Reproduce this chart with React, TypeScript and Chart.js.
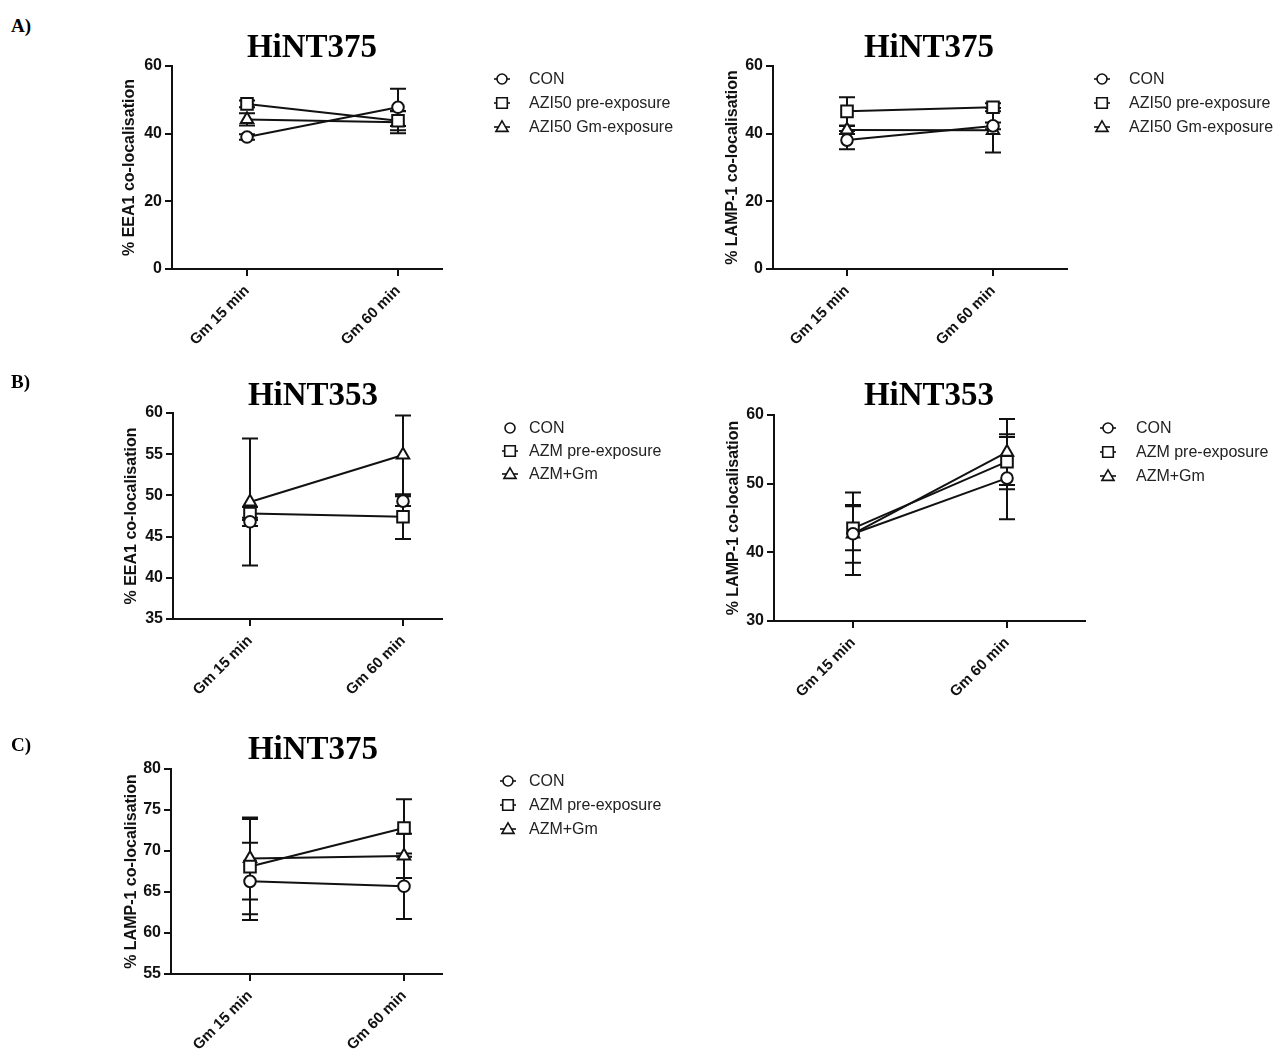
import React, { useEffect, useRef } from 'react';
import { Chart, registerables } from 'chart.js';

Chart.register(...registerables);

// ---------------- DATA ----------------
const categories = ['Gm 15 min', 'Gm 60 min'];

// A) HiNT375, AZI50 – EEA1
const aEea1Con = [39.0, 47.8];
const aEea1ConErr = [0.8, 5.5];
const aEea1Pre = [48.8, 43.8];
const aEea1PreErr = [1.0, 2.8];
const aEea1Gm = [44.2, 43.4];
const aEea1GmErr = [1.8, 3.3];

// A) HiNT375, AZI50 – LAMP-1
const aLampCon = [38.1, 42.3];
const aLampConErr = [2.7, 1.0];
const aLampPre = [46.6, 47.8];
const aLampPreErr = [4.2, 1.2];
const aLampGm = [41.1, 41.0];
const aLampGmErr = [1.2, 6.6];

// B) HiNT353, AZM – EEA1
const bEea1Con = [46.8, 49.3];
const bEea1ConErr = [0.5, 0.6];
const bEea1Pre = [47.8, 47.4];
const bEea1PreErr = [0.8, 2.7];
const bEea1Gm = [49.2, 54.9];
const bEea1GmErr = [7.7, 4.8];

// B) HiNT353, AZM – LAMP-1
const bLampCon = [42.7, 50.8];
const bLampConErr = [4.2, 6.0];
const bLampPre = [43.5, 53.2];
const bLampPreErr = [3.2, 4.0];
const bLampGm = [42.7, 54.6];
const bLampGmErr = [6.0, 4.8];

// C) HiNT375, AZM – LAMP-1
const cLampCon = [66.3, 65.7];
const cLampConErr = [4.7, 4.0];
const cLampPre = [68.1, 72.8];
const cLampPreErr = [5.8, 3.5];
const cLampGm = [69.1, 69.4];
const cLampGmErr = [5.0, 2.7];

const legendAzi = ['CON', 'AZI50 pre-exposure', 'AZI50 Gm-exposure'];
const legendAzm = ['CON', 'AZM pre-exposure', 'AZM+Gm'];

// ---------------- STYLE ----------------
const INK = '#111';
const SANS = "'Liberation Sans', Arial, Helvetica, sans-serif";
const SERIF = "'Liberation Serif', 'Times New Roman', Times, serif";
const Y_TITLE_SIZE = 16;

type Marker = 'circle' | 'rect' | 'triangle';
interface SeriesDef { label: string; values: number[]; errors: number[]; marker: Marker; line: boolean; }
interface PanelDef {
  id: string;
  canvas: { left: number; top: number; width: number; height: number };
  area: { left: number; top: number; right: number; bottom: number };
  cat0X: number; cat1X: number;
  yTitleX: number; yTitle: string;
  yMin: number; yMax: number; yStep: number;
  series: SeriesDef[];
  legend: { markerX: number; textX: number; ys: number[] };
}

const mk = (labels: string[], vals: number[][], errs: number[][], conLine = true): SeriesDef[] => [
  { label: labels[0], values: vals[0], errors: errs[0], marker: 'circle', line: conLine },
  { label: labels[1], values: vals[1], errors: errs[1], marker: 'rect', line: true },
  { label: labels[2], values: vals[2], errors: errs[2], marker: 'triangle', line: true },
];

const panels: PanelDef[] = [
  {
    id: 'aEea1', canvas: { left: 0, top: 40, width: 720, height: 330 },
    area: { left: 172, top: 66, right: 442, bottom: 269 }, cat0X: 247, cat1X: 398,
    yTitleX: 130, yTitle: '% EEA1 co-localisation', yMin: 0, yMax: 60, yStep: 20,
    series: mk(legendAzi, [aEea1Con, aEea1Pre, aEea1Gm], [aEea1ConErr, aEea1PreErr, aEea1GmErr]),
    legend: { markerX: 502, textX: 529, ys: [79, 103, 127] },
  },
  {
    id: 'aLamp', canvas: { left: 720, top: 40, width: 560, height: 330 },
    area: { left: 773, top: 66, right: 1067, bottom: 269 }, cat0X: 847, cat1X: 993,
    yTitleX: 733, yTitle: '% LAMP-1 co-localisation', yMin: 0, yMax: 60, yStep: 20,
    series: mk(legendAzi, [aLampCon, aLampPre, aLampGm], [aLampConErr, aLampPreErr, aLampGmErr]),
    legend: { markerX: 1102, textX: 1129, ys: [79, 103, 127] },
  },
  {
    id: 'bEea1', canvas: { left: 0, top: 395, width: 720, height: 330 },
    area: { left: 173, top: 413, right: 442, bottom: 619 }, cat0X: 250, cat1X: 403,
    yTitleX: 131.5, yTitle: '% EEA1 co-localisation', yMin: 35, yMax: 60, yStep: 5,
    series: mk(legendAzm, [bEea1Con, bEea1Pre, bEea1Gm], [bEea1ConErr, bEea1PreErr, bEea1GmErr], false),
    legend: { markerX: 510, textX: 529, ys: [428, 451, 474] },
  },
  {
    id: 'bLamp', canvas: { left: 720, top: 395, width: 560, height: 330 },
    area: { left: 774, top: 415, right: 1085, bottom: 621 }, cat0X: 853, cat1X: 1007,
    yTitleX: 734, yTitle: '% LAMP-1 co-localisation', yMin: 30, yMax: 60, yStep: 10,
    series: mk(legendAzm, [bLampCon, bLampPre, bLampGm], [bLampConErr, bLampPreErr, bLampGmErr]),
    legend: { markerX: 1108, textX: 1136, ys: [428, 452, 476] },
  },
  {
    id: 'cLamp', canvas: { left: 0, top: 750, width: 720, height: 307 },
    area: { left: 171, top: 769, right: 442, bottom: 974 }, cat0X: 250, cat1X: 404,
    yTitleX: 131.5, yTitle: '% LAMP-1 co-localisation', yMin: 55, yMax: 80, yStep: 5,
    series: mk(legendAzm, [cLampCon, cLampPre, cLampGm], [cLampConErr, cLampPreErr, cLampGmErr]),
    legend: { markerX: 508, textX: 529, ys: [781, 805, 829] },
  },
];

const titles = [
  { text: 'HiNT375', cx: 312, baseline: 58 },
  { text: 'HiNT375', cx: 929, baseline: 58 },
  { text: 'HiNT353', cx: 313, baseline: 406 },
  { text: 'HiNT353', cx: 929, baseline: 406 },
  { text: 'HiNT375', cx: 313, baseline: 760 },
];
const letters = [
  { text: 'A)', x: 11, baseline: 32 },
  { text: 'B)', x: 11, baseline: 388 },
  { text: 'C)', x: 11, baseline: 751 },
];

// ---------------- PLUGINS ----------------
function drawMarker(ctx: CanvasRenderingContext2D, m: Marker, x: number, y: number, r: number) {
  ctx.beginPath();
  if (m === 'circle') ctx.arc(x, y, r, 0, Math.PI * 2);
  else if (m === 'rect') ctx.rect(x - r, y - r, 2 * r, 2 * r);
  else {
    ctx.moveTo(x, y - r * 1.1);
    ctx.lineTo(x + r * 1.1, y + r * 0.8);
    ctx.lineTo(x - r * 1.1, y + r * 0.8);
    ctx.closePath();
  }
  ctx.fillStyle = '#fff';
  ctx.fill();
  ctx.stroke();
}

const errorBars = {
  id: 'errorBars',
  beforeDatasetsDraw(chart: any) {
    const { ctx } = chart;
    const xs = chart.scales.x;
    const ys = chart.scales.y;
    ctx.save();
    ctx.strokeStyle = INK;
    ctx.lineWidth = 2;
    chart.data.datasets.forEach((ds: any) => {
      ds.data.forEach((p: any, i: number) => {
        const e = ds.errors[i];
        const px = xs.getPixelForValue(p.x);
        const t = ys.getPixelForValue(p.y + e);
        const b = ys.getPixelForValue(p.y - e);
        ctx.beginPath();
        ctx.moveTo(px, t); ctx.lineTo(px, b);
        ctx.moveTo(px - 8, t); ctx.lineTo(px + 8, t);
        ctx.moveTo(px - 8, b); ctx.lineTo(px + 8, b);
        ctx.stroke();
      });
    });
    ctx.restore();
  },
};

const markerLegend = {
  id: 'markerLegend',
  afterDraw(chart: any, _args: any, opts: any) {
    const { ctx } = chart;
    ctx.save();
    chart.data.datasets.forEach((ds: any, i: number) => {
      const x = opts.markerX;
      const y = opts.ys[i];
      ctx.strokeStyle = INK;
      ctx.lineWidth = 1.6;
      if (ds.showLine !== false) {
        ctx.beginPath();
        ctx.moveTo(x - 8, y); ctx.lineTo(x + 8, y);
        ctx.stroke();
      }
      drawMarker(ctx, ds.marker, x, y, ds.marker === 'circle' ? 5 : ds.marker === 'rect' ? 5.3 : 5.5);
      ctx.fillStyle = '#222';
      ctx.font = `16px ${SANS}`;
      ctx.textAlign = 'left';
      ctx.textBaseline = 'middle';
      ctx.fillText(ds.label, opts.textX, y + 1);
    });
    ctx.restore();
  },
};

// ---------------- COMPONENTS ----------------
function PanelChart({ p }: { p: PanelDef }) {
  const ref = useRef<HTMLCanvasElement | null>(null);
  useEffect(() => {
    if (!ref.current) return;
    const c = p.canvas;
    const a = p.area;
    const lineH = Y_TITLE_SIZE * 1.2;
    const padLeft = p.yTitleX - lineH / 2 - c.left;
    const yWidth = a.left - c.left - padLeft;
    const padTop = a.top - c.top;
    const padRight = c.left + c.width - a.right;
    const xHeight = c.top + c.height - a.bottom;
    const unit = p.cat1X - p.cat0X;
    const xMin = -(p.cat0X - a.left) / unit;
    const xMax = 1 + (a.right - p.cat1X) / unit;

    const axisGrid = { display: true, drawOnChartArea: false, drawTicks: true, tickLength: 7, color: INK, lineWidth: 2 };
    const axisBorder = { display: true, color: INK, width: 2 };

    const chart = new Chart(ref.current, {
      type: 'line',
      data: {
        datasets: p.series.map((s) => ({
          label: s.label,
          data: s.values.map((v, i) => ({ x: i, y: v })),
          errors: s.errors,
          marker: s.marker,
          showLine: s.line,
          borderColor: INK,
          borderWidth: 2,
          pointStyle: s.marker,
          pointRadius: s.marker === 'circle' ? 5.8 : s.marker === 'rect' ? 8.2 : 7.2,
          pointBackgroundColor: '#fff',
          pointBorderColor: INK,
          pointBorderWidth: 2,
          fill: false,
          tension: 0,
          clip: false,
        })) as any,
      },
      options: {
        animation: false,
        responsive: false,
        maintainAspectRatio: false,
        events: [],
        layout: { padding: { left: padLeft, top: padTop, right: padRight, bottom: 0 } },
        scales: {
          x: {
            type: 'linear',
            min: xMin,
            max: xMax,
            afterBuildTicks: (s: any) => { s.ticks = categories.map((_, i) => ({ value: i })); },
            afterFit: (s: any) => { s.height = xHeight; },
            grid: axisGrid,
            border: axisBorder,
            ticks: {
              autoSkip: false,
              minRotation: 45,
              maxRotation: 45,
              padding: 6,
              color: INK,
              font: { family: SANS, size: 15, weight: 'bold' },
              callback: (v: any) => categories[Math.round(Number(v))] ?? '',
            },
          },
          y: {
            type: 'linear',
            min: p.yMin,
            max: p.yMax,
            afterFit: (s: any) => { s.width = yWidth; },
            grid: axisGrid,
            border: axisBorder,
            ticks: {
              stepSize: p.yStep,
              padding: 3,
              color: INK,
              font: { family: SANS, size: 16, weight: 'bold' },
            },
            title: {
              display: true,
              text: p.yTitle,
              color: INK,
              padding: 0,
              font: { family: SANS, size: Y_TITLE_SIZE, weight: 'bold' },
            },
          },
        },
        plugins: {
          legend: { display: false },
          tooltip: { enabled: false },
          markerLegend: {
            markerX: p.legend.markerX - c.left,
            textX: p.legend.textX - c.left,
            ys: p.legend.ys.map((y) => y - c.top),
          },
        } as any,
      },
      plugins: [errorBars, markerLegend],
    } as any);
    return () => chart.destroy();
  }, [p]);
  return (
    <canvas
      ref={ref}
      width={p.canvas.width}
      height={p.canvas.height}
      style={{ position: 'absolute', left: p.canvas.left, top: p.canvas.top, width: p.canvas.width, height: p.canvas.height, display: 'block' }}
    />
  );
}

export default function App() {
  const titleSize = 33;
  const letterSize = 19;
  return (
    <div style={{ position: 'absolute', left: 0, top: 0, width: 1280, height: 1057, background: '#fff', overflow: 'hidden' }}>
      {panels.map((p) => <PanelChart key={p.id} p={p} />)}
      {titles.map((t, i) => (
        <div key={'t' + i} style={{
          position: 'absolute', left: t.cx - 120, width: 240, textAlign: 'center',
          top: t.baseline - 0.8375 * titleSize, fontFamily: SERIF, fontWeight: 'bold',
          fontSize: titleSize, lineHeight: 1, color: '#000', whiteSpace: 'nowrap',
        }}>{t.text}</div>
      ))}
      {letters.map((l, i) => (
        <div key={'l' + i} style={{
          position: 'absolute', left: l.x, top: l.baseline - 0.8375 * letterSize,
          fontFamily: SERIF, fontWeight: 'bold', fontSize: letterSize, lineHeight: 1, color: '#000',
        }}>{l.text}</div>
      ))}
    </div>
  );
}
